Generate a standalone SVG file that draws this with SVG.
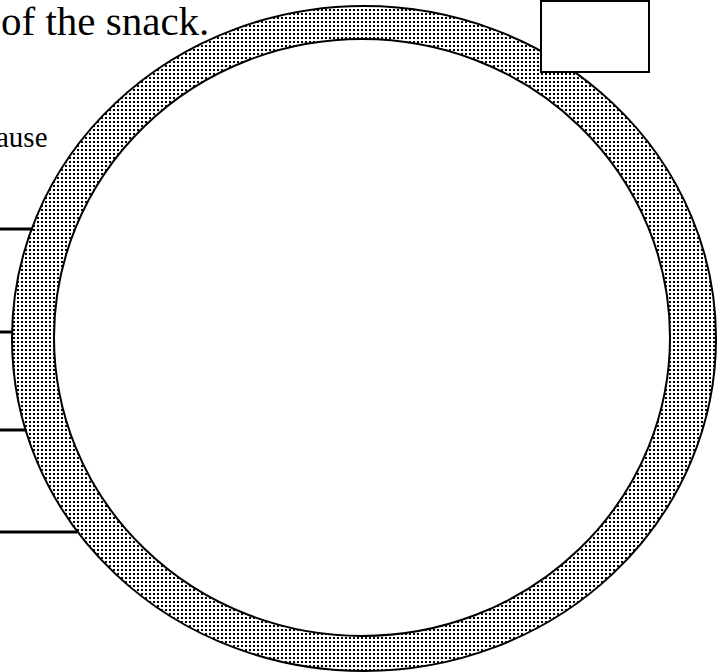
<svg xmlns="http://www.w3.org/2000/svg" width="728" height="672" viewBox="0 0 728 672">
  <defs>
    <pattern id="dots" patternUnits="userSpaceOnUse" x="0" y="0" width="4" height="4">
      <rect x="1" y="1" width="2" height="2" fill="#000"/>
    </pattern>
    <style>
      .txt { font-family: "Liberation Serif", "Times New Roman", serif; fill: #000; }
      .ring { fill: url(#dots); fill-rule: evenodd; stroke: #000; stroke-width: 2; }
      .line { stroke: #000; stroke-width: 3; fill: none; }
      .box { fill: #fff; stroke: #000; stroke-width: 2; }
    </style>
  </defs>
  <rect width="728" height="672" fill="#fff"/>
  <g id="text-top">
    <text class="txt" x="1" y="35" font-size="41">of the snack.</text>
  </g>
  <g id="text-ause">
    <text class="txt" x="-4" y="147" font-size="29">ause</text>
  </g>
  <g id="connectors">
    <line class="line" x1="0" y1="229" x2="33" y2="229"/>
    <line class="line" x1="0" y1="332" x2="13" y2="332"/>
    <line class="line" x1="0" y1="430" x2="25" y2="430"/>
    <line class="line" x1="0" y1="532" x2="77" y2="532"/>
  </g>
  <g id="ring">
    <path class="ring" d="M12,338.5 A352,332.5 0 1,0 716,338.5 A352,332.5 0 1,0 12,338.5 Z M54,337.5 A308,298.5 0 1,0 670,337.5 A308,298.5 0 1,0 54,337.5 Z"/>
  </g>
  <g id="box">
    <rect class="box" x="541" y="1" width="108" height="71"/>
  </g>
</svg>
